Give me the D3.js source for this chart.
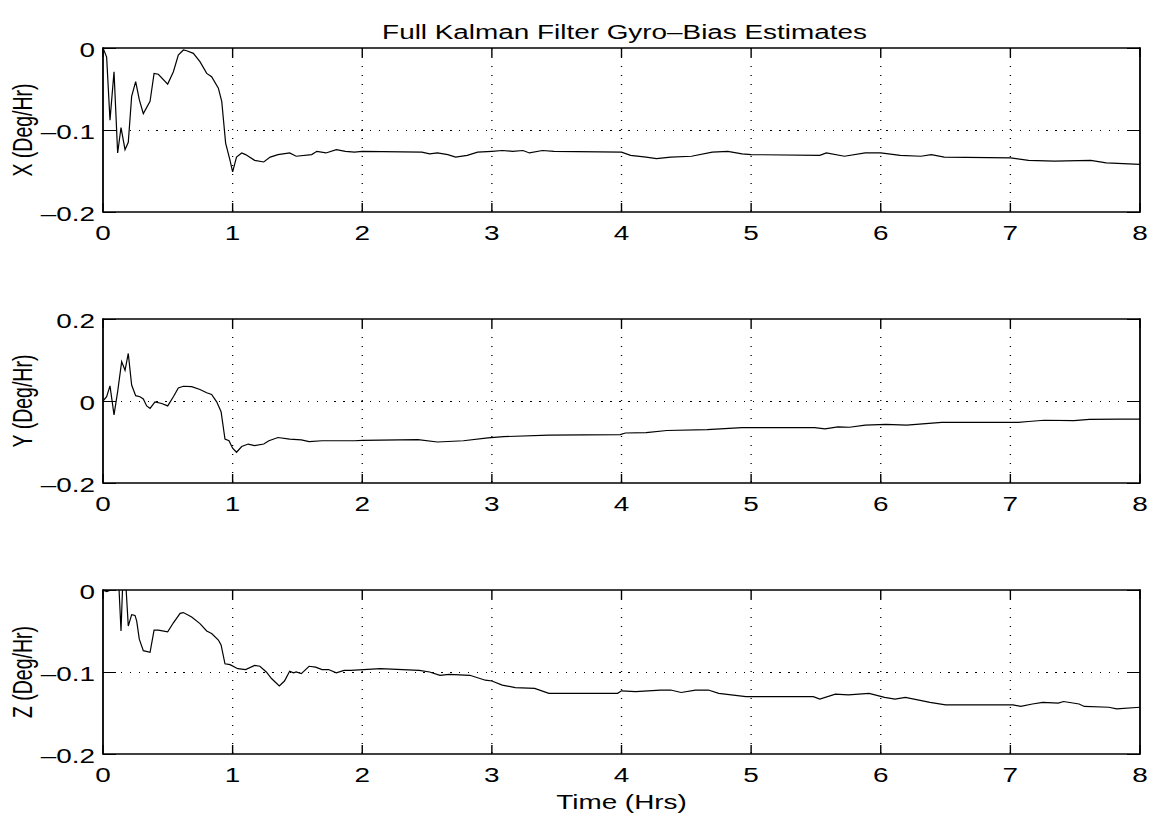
<!DOCTYPE html>
<html><head><meta charset="utf-8">
<script src="https://cdn.jsdelivr.net/npm/d3@7"></script>
<style>body{margin:0;background:#fff} svg{display:block}</style>
</head><body>
<script>
// ---- data ----
const chartTitle = "Full Kalman Filter Gyro\u2013Bias Estimates";
const xLabel = "Time (Hrs)";
const yLabels = ["X (Deg/Hr)", "Y (Deg/Hr)", "Z (Deg/Hr)"];
const xTicks = [0, 1, 2, 3, 4, 5, 6, 7, 8];
const yDomains = [[-0.2, 0], [-0.2, 0.2], [-0.2, 0]];
const yTicks = [[-0.2, -0.1, 0], [-0.2, 0, 0.2], [-0.2, -0.1, 0]];
const yTickLabels = [["\u20130.2", "\u20130.1", "0"], ["\u20130.2", "0", "0.2"], ["\u20130.2", "\u20130.1", "0"]];

const timeX = [0,0.028,0.054,0.085,0.113,0.139,0.170,0.195,0.221,0.252,0.280,0.311,0.363,0.394,0.427,0.499,0.543,0.581,0.620,0.646,0.697,0.748,0.800,0.838,0.890,0.916,0.946,0.980,1.00,1.03,1.07,1.10,1.17,1.24,1.29,1.35,1.44,1.49,1.61,1.65,1.72,1.80,1.87,1.94,2.00,2.46,2.52,2.58,2.66,2.72,2.81,2.89,3.00,3.08,3.16,3.24,3.29,3.39,3.48,4.00,4.07,4.19,4.27,4.38,4.54,4.70,4.82,4.93,5.00,5.53,5.58,5.72,5.88,6.00,6.15,6.31,6.39,6.49,7.00,7.14,7.34,7.62,7.74,8.00];
const biasX = [0,-0.011,-0.088,-0.029,-0.128,-0.097,-0.124,-0.115,-0.059,-0.041,-0.063,-0.080,-0.065,-0.031,-0.032,-0.044,-0.029,-0.0085,-0.0024,-0.0033,-0.0065,-0.0167,-0.031,-0.035,-0.049,-0.065,-0.116,-0.137,-0.151,-0.133,-0.128,-0.130,-0.137,-0.139,-0.133,-0.130,-0.128,-0.132,-0.130,-0.126,-0.128,-0.124,-0.126,-0.127,-0.126,-0.127,-0.129,-0.128,-0.130,-0.133,-0.131,-0.127,-0.126,-0.125,-0.126,-0.125,-0.128,-0.125,-0.126,-0.127,-0.131,-0.133,-0.135,-0.133,-0.132,-0.127,-0.126,-0.129,-0.130,-0.131,-0.128,-0.132,-0.128,-0.128,-0.131,-0.132,-0.130,-0.133,-0.134,-0.137,-0.138,-0.137,-0.140,-0.142];

const timeY = [0,0.028,0.054,0.085,0.113,0.144,0.170,0.195,0.221,0.252,0.285,0.311,0.337,0.363,0.401,0.453,0.499,0.543,0.581,0.620,0.684,0.748,0.800,0.838,0.877,0.911,0.941,0.972,1.00,1.03,1.07,1.12,1.17,1.24,1.28,1.35,1.44,1.53,1.59,1.69,1.94,2.00,2.43,2.58,2.78,2.97,3.09,3.44,3.99,4.03,4.19,4.35,4.66,4.93,5.49,5.57,5.67,5.76,5.88,6.04,6.20,6.47,7.06,7.14,7.26,7.49,7.61,7.84,8.00];
const biasY = [0,0.0105,0.037,-0.034,0.023,0.096,0.075,0.116,0.039,0.013,0.0105,0.005,-0.012,-0.018,-0.002,-0.006,-0.012,0.0105,0.032,0.036,0.035,0.028,0.020,0.016,-0.002,-0.026,-0.093,-0.097,-0.115,-0.125,-0.111,-0.105,-0.109,-0.105,-0.097,-0.089,-0.093,-0.095,-0.099,-0.097,-0.097,-0.096,-0.094,-0.100,-0.097,-0.090,-0.087,-0.083,-0.082,-0.078,-0.077,-0.072,-0.070,-0.065,-0.065,-0.068,-0.063,-0.064,-0.059,-0.057,-0.059,-0.052,-0.052,-0.050,-0.047,-0.048,-0.045,-0.044,-0.044];

const timeZ = [0,0.028,0.06,0.118,0.139,0.157,0.175,0.195,0.221,0.247,0.26,0.280,0.311,0.363,0.394,0.427,0.499,0.543,0.595,0.620,0.684,0.748,0.800,0.838,0.890,0.911,0.941,0.98,1.04,1.10,1.17,1.21,1.26,1.30,1.36,1.40,1.44,1.47,1.49,1.53,1.59,1.64,1.69,1.74,1.80,1.86,1.91,2.14,2.44,2.52,2.60,2.67,2.83,2.95,3.00,3.08,3.18,3.33,3.44,3.97,4.00,4.11,4.30,4.38,4.46,4.57,4.67,4.75,4.96,5.48,5.53,5.65,5.75,5.91,6.03,6.11,6.19,6.38,6.50,7.02,7.08,7.17,7.25,7.37,7.41,7.53,7.57,7.76,7.82,8.00];
const biasZ = [0,-0.002,0.0,0.02,-0.05,0.03,0.01,-0.044,-0.030,-0.031,-0.038,-0.060,-0.074,-0.076,-0.049,-0.049,-0.051,-0.040,-0.0285,-0.0275,-0.033,-0.041,-0.050,-0.053,-0.061,-0.067,-0.090,-0.091,-0.096,-0.097,-0.092,-0.093,-0.100,-0.108,-0.117,-0.111,-0.099,-0.101,-0.100,-0.102,-0.093,-0.094,-0.097,-0.097,-0.101,-0.098,-0.098,-0.096,-0.098,-0.100,-0.104,-0.103,-0.104,-0.110,-0.111,-0.116,-0.119,-0.120,-0.126,-0.126,-0.123,-0.124,-0.122,-0.122,-0.125,-0.122,-0.122,-0.126,-0.130,-0.130,-0.133,-0.127,-0.128,-0.126,-0.131,-0.133,-0.131,-0.137,-0.140,-0.140,-0.142,-0.139,-0.137,-0.138,-0.136,-0.139,-0.142,-0.143,-0.145,-0.143];

const seriesTimes = [timeX, timeY, timeZ];
const seriesValues = [biasX, biasY, biasZ];

// ---- layout ----
const W = 1157, H = 818;
const left = 103, right = 1140;
const tops = [48, 319, 590];
const plotH = 164;
const FS = 19.5, SX = 1.43;
const FONT = "'Liberation Sans', Arial, Helvetica, sans-serif";
const xTickLen = 9, yTickLen = 13;

const svg = d3.select("body").append("svg").attr("width", W).attr("height", H)
  .style("font-family", FONT);

function stext(g, x, y, str, anchor, rot) {
  const t = g.append("g").attr("transform", `translate(${x},${y}) scale(${SX},1)` + (rot ? ` rotate(${rot})` : ""));
  t.append("text").attr("text-anchor", anchor).attr("dominant-baseline", "central")
    .attr("font-size", FS).attr("fill", "#000").text(str);
}

const x = d3.scaleLinear().domain([0, 8]).range([left, right]);

for (let k = 0; k < 3; k++) {
  const top = tops[k], bottom = top + plotH;
  const y = d3.scaleLinear().domain(yDomains[k]).range([bottom, top]);
  const g = svg.append("g");

  // grid
  g.selectAll(".vg").data(xTicks.slice(1, -1)).enter().append("line")
    .attr("x1", d => x(d)).attr("x2", d => x(d)).attr("y1", top).attr("y2", bottom)
    .attr("stroke", "#000").attr("stroke-width", 1.3).attr("stroke-dasharray", "1,8");
  g.selectAll(".hg").data(yTicks[k].slice(1, -1)).enter().append("line")
    .attr("x1", left).attr("x2", right).attr("y1", d => y(d)).attr("y2", d => y(d))
    .attr("stroke", "#000").attr("stroke-width", 1).attr("stroke-dasharray", "1.4,7.5")
    .attr("shape-rendering", "crispEdges");

  // ticks (inward, all sides)
  xTicks.forEach(d => {
    g.append("line").attr("x1", x(d)).attr("x2", x(d)).attr("y1", bottom).attr("y2", bottom - xTickLen)
      .attr("stroke", "#000").attr("stroke-width", 1.4);
    g.append("line").attr("x1", x(d)).attr("x2", x(d)).attr("y1", top).attr("y2", top + xTickLen)
      .attr("stroke", "#000").attr("stroke-width", 1.4);
  });
  yTicks[k].forEach(d => {
    g.append("line").attr("x1", left).attr("x2", left + yTickLen).attr("y1", y(d)).attr("y2", y(d))
      .attr("stroke", "#000").attr("shape-rendering", "crispEdges");
    g.append("line").attr("x1", right).attr("x2", right - yTickLen).attr("y1", y(d)).attr("y2", y(d))
      .attr("stroke", "#000").attr("shape-rendering", "crispEdges");
  });

  // clip + line
  const cid = "clip" + k;
  svg.append("clipPath").attr("id", cid).append("rect")
    .attr("x", left).attr("y", top).attr("width", right - left).attr("height", plotH);
  const pts = seriesTimes[k].map((t, i) => [t, seriesValues[k][i]]);
  g.append("path").datum(pts).attr("clip-path", `url(#${cid})`)
    .attr("fill", "none").attr("stroke", "#000").attr("stroke-width", 1.2)
    .attr("d", d3.line().x(d => x(d[0])).y(d => y(d[1])));

  // border: horizontal thinner, vertical thicker (stretched look)
  [[left, top, right, top], [left, bottom, right, bottom]].forEach(s =>
    g.append("line").attr("x1", s[0]).attr("y1", s[1]).attr("x2", s[2]).attr("y2", s[3])
      .attr("stroke", "#000").attr("stroke-width", 1.3));
  [[left, top, left, bottom], [right, top, right, bottom]].forEach(s =>
    g.append("line").attr("x1", s[0]).attr("y1", s[1] - 0.65).attr("x2", s[2]).attr("y2", s[3] + 0.65)
      .attr("stroke", "#000").attr("stroke-width", 1.8));

  // tick labels
  xTicks.forEach(d => stext(g, x(d), bottom + 21, String(d), "middle"));
  yTicks[k].forEach((d, i) => stext(g, left - 8, y(d) + 2, yTickLabels[k][i], "end"));

  // y label
  stext(g, 22, (top + bottom) / 2, yLabels[k], "middle", -90);
}

stext(svg, (left + right) / 2 + 3, 32, chartTitle, "middle");
stext(svg, (left + right) / 2, tops[2] + plotH + 48, xLabel, "middle");
</script>
</body></html>
